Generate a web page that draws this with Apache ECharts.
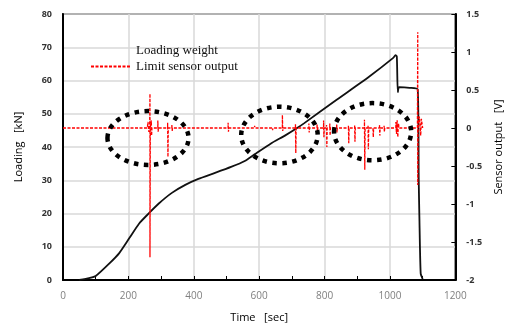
<!DOCTYPE html>
<html>
<head>
<meta charset="utf-8">
<script src="https://cdn.jsdelivr.net/npm/echarts@6/dist/echarts.min.js"></script>
<style>
  html, body {margin: 0; padding: 0; background: #fff;}
  #chart {width: 512px; height: 332px;}
</style>
</head>
<body>
<div id="chart"></div>
<script>
// loading weight curve [sec, kN]
const loadTime = [50, 80, 100, 142, 172, 203, 233, 263, 293, 333, 374, 414, 465, 514, 556, 586, 635, 680, 716, 737, 837, 937, 1010, 1017, 1021, 1024, 1028, 1060, 1085, 1088, 1090, 1094, 1100];
const loadKN = [0, 0.6, 1.2, 5.0, 8.1, 12.6, 17.0, 20.1, 23.0, 26.2, 28.6, 30.4, 32.2, 34.0, 35.8, 37.8, 41.0, 43.5, 45.7, 47.1, 54.2, 61.2, 66.8, 67.6, 67.2, 56.5, 58.0, 57.8, 57.3, 30, 19, 2, 0.3];

// limit sensor output [sec, V]
const sensorTime = [0, 120, 121, 122, 123, 200, 201, 202, 258, 260, 262, 265, 266, 266, 267, 270, 271, 272, 290, 290, 291, 292, 320, 320, 321, 322, 333, 333, 334, 335, 420, 421, 422, 505, 505, 506, 507, 586, 586, 587, 640, 641, 642, 671, 671, 672, 673, 711, 711, 712, 713, 752, 752, 753, 754, 777, 777, 778, 779, 797, 797, 798, 799, 806, 806, 807, 808, 816, 816, 817, 818, 837, 837, 838, 839, 873, 873, 874, 875, 892, 892, 893, 894, 922, 922, 923, 924, 933, 933, 934, 935, 948, 948, 949, 950, 968, 968, 969, 970, 982, 982, 983, 984, 1018, 1018, 1020, 1022, 1024, 1026, 1028, 1084, 1085, 1085, 1086, 1090, 1094, 1096, 1100];
const sensorVolt = [0, 0, 0.02, -0.01, 0, 0, -0.02, 0, 0, 0.08, -0.05, 0, 0.45, -1.7, 0, 0.1, -0.1, 0, 0, 0.1, -0.05, 0, 0, 0.07, -0.38, 0, 0, 0.04, -0.04, 0, 0, 0.02, 0, 0, 0.07, -0.05, 0, 0, 0.03, 0, 0, -0.03, 0, 0, 0.17, -0.04, 0, 0, 0.05, -0.33, 0, 0, 0.06, -0.06, 0, 0, 0.05, -0.05, 0, 0, 0.1, -0.12, 0, 0, 0.04, -0.25, 0, 0, 0.06, -0.1, 0, 0, 0.05, -0.06, 0, 0, 0.03, -0.2, 0, 0, 0.04, -0.18, 0, 0, 0.11, -0.55, 0, 0, 0.03, -0.28, 0, 0, 0.02, -0.12, 0, 0, 0.04, -0.1, 0, 0, 0.03, -0.05, 0, 0, 0.08, -0.08, 0.1, -0.12, 0.06, 0, 0, 1.26, -0.75, 0, 0.15, -0.1, 0.12, 0];

const xTicks = [0, 1200, 200];
const loadTicks = [0, 80, 10];
const voltTicks = [-2, 1.5, 0.5];

// dotted ellipses: centre [sec, kN], radius [sec, kN]
const marks = [
  {c: [260, 42.7], r: [124, 8.1]},
  {c: [662, 43.6], r: [117, 8.5]},
  {c: [947, 44.6], r: [118, 8.6]}
];

const chart = echarts.init(document.getElementById('chart'));
const sans = 'Open Sans';

chart.setOption({
  animation: false,
  grid: {left: 63, right: 52, top: 14, bottom: 52, show: true, borderColor: '#000', borderWidth: 1.5},
  legend: {
    orient: 'vertical', left: 85, top: 39, itemWidth: 40, itemHeight: 10, itemGap: 3,
    itemStyle: {opacity: 0},
    textStyle: {fontFamily: 'Liberation Serif', fontSize: 13, color: '#111'},
    data: [{name: 'Loading weight', icon: 'none'}, {name: 'Limit sensor output'}]
  },
  xAxis: {
    type: 'value', min: xTicks[0], max: xTicks[1], interval: xTicks[2],
    name: 'Time   [sec]', nameLocation: 'middle', nameGap: 32,
    nameTextStyle: {fontFamily: sans, fontSize: 11, color: '#000'},
    axisLine: {lineStyle: {color: '#000', width: 2}},
    axisTick: {inside: true, length: 4, lineStyle: {color: '#000'}},
    minorTick: {show: true, splitNumber: 2, length: 4, lineStyle: {color: '#000'}},
    axisLabel: {margin: 11, fontFamily: sans, fontSize: 10, color: '#808080', formatter: v => String(v)},
    splitLine: {lineStyle: {color: '#d9d9d9', width: 1.5}}
  },
  yAxis: [{
    type: 'value', min: loadTicks[0], max: loadTicks[1], interval: loadTicks[2],
    name: 'Loading   [kN]', nameLocation: 'middle', nameGap: 39, nameRotate: 90,
    nameTextStyle: {fontFamily: sans, fontSize: 11, color: '#000'},
    axisLine: {show: true, lineStyle: {color: '#000', width: 2}},
    axisTick: {show: false},
    axisLabel: {margin: 11, fontFamily: sans, fontSize: 9, fontWeight: 'bold', color: '#333'},
    splitLine: {lineStyle: {color: '#d9d9d9', width: 1.5}}
  }, {
    type: 'value', min: voltTicks[0], max: voltTicks[1], interval: voltTicks[2],
    name: 'Sensor output   [V]', nameLocation: 'middle', nameGap: 37, nameRotate: 90,
    nameTextStyle: {fontFamily: sans, fontSize: 11, color: '#000'},
    axisLine: {show: true, lineStyle: {color: '#000', width: 2}},
    axisTick: {show: true, inside: true, length: 4, lineStyle: {color: '#000'}},
    axisLabel: {margin: 11, fontFamily: sans, fontSize: 9, fontWeight: 'bold', color: '#333'},
    splitLine: {show: false}
  }],
  series: [{
    name: 'Loading weight', type: 'line', yAxisIndex: 0,
    data: loadTime.map((t, i) => [t, loadKN[i]]),
    symbol: 'none', smooth: 0.2,
    lineStyle: {color: '#111', width: 1.8},
    itemStyle: {color: '#111'}
  }, {
    name: 'Limit sensor output', type: 'line', yAxisIndex: 1,
    data: sensorTime.map((t, i) => [t, sensorVolt[i]]),
    symbol: 'none',
    lineStyle: {color: '#ff0000', width: 1.3, type: [3, 1.5]},
    itemStyle: {color: '#ff0000'}
  }]
});

// dotted ellipses placed through the axis scales
const toPx = p => chart.convertToPixel({xAxisIndex: 0, yAxisIndex: 0}, p);
chart.setOption({
  graphic: marks.map(m => {
    const c = toPx(m.c);
    const e = toPx([m.c[0] + m.r[0], m.c[1] + m.r[1]]);
    return {
      type: 'ellipse', z: 100,
      shape: {cx: c[0], cy: c[1], rx: e[0] - c[0], ry: c[1] - e[1]},
      style: {fill: null, stroke: '#000', lineWidth: 4.5, lineDash: [4.5, 5.5]}
    };
  })
});
</script>
</body>
</html>
